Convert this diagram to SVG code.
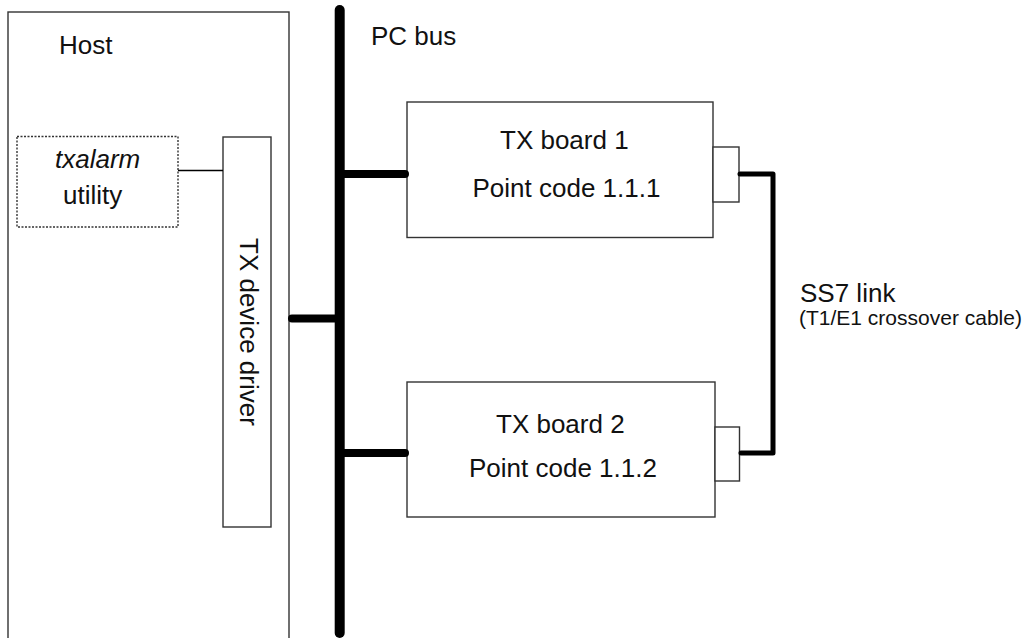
<svg xmlns="http://www.w3.org/2000/svg" width="1024" height="638" viewBox="0 0 1024 638">
<style>
.box{fill:#fff;stroke:#333;stroke-width:1.4}
.t{font-family:"Liberation Sans",Arial,sans-serif;font-size:26px;fill:#111}
.s{font-family:"Liberation Sans",Arial,sans-serif;font-size:21px;fill:#111}
.bus{stroke:#000;stroke-linecap:round;fill:none}
</style>
<rect width="1024" height="638" fill="#fff"/>
<g id="host">
<rect class="box" x="8" y="12" width="281" height="640"/>
<text class="t" x="59" y="54">Host</text>
</g>
<g id="txalarm">
<rect x="17" y="136.5" width="161" height="90.5" fill="#fff" stroke="#333" stroke-width="1.4" stroke-dasharray="2,1.5"/>
<text class="t" x="55" y="168" font-style="italic">txalarm</text>
<text class="t" x="63" y="204">utility</text>
</g>
<g id="driver">
<rect class="box" x="223" y="137" width="48" height="390"/>
<text class="t" transform="translate(240,238) rotate(90)">TX device driver</text>
</g>
<g id="pcbus">
<text class="t" x="371" y="45">PC bus</text>
</g>
<g id="board1">
<rect class="box" x="407" y="102" width="306" height="135.5"/>
<rect class="box" x="713" y="147" width="26" height="55"/>
<text class="t" x="500" y="149">TX board 1</text>
<text class="t" x="472.5" y="196.5">Point code 1.1.1</text>
</g>
<g id="board2">
<rect class="box" x="407" y="382" width="308" height="135"/>
<rect class="box" x="715" y="427" width="24.5" height="54"/>
<text class="t" x="496" y="433">TX board 2</text>
<text class="t" x="469" y="477">Point code 1.1.2</text>
</g>
<g id="ss7label">
<text class="t" x="800" y="302">SS7 link</text>
<text class="s" x="799" y="325">(T1/E1 crossover cable)</text>
</g>
<g id="connectors">
<line x1="178" y1="170.5" x2="223" y2="170.5" stroke="#000" stroke-width="1.6"/>
<line class="bus" x1="339.7" y1="10" x2="339.7" y2="633" stroke-width="10"/>
<line class="bus" x1="340" y1="174" x2="405" y2="174" stroke-width="8"/>
<line class="bus" x1="340" y1="453" x2="405" y2="453" stroke-width="8"/>
<line class="bus" x1="292" y1="318.5" x2="340" y2="318.5" stroke-width="8"/>
<polyline class="bus" points="740,174 773,174 773,453 741,453" stroke-width="5" stroke-linejoin="round"/>
</g>
</svg>
